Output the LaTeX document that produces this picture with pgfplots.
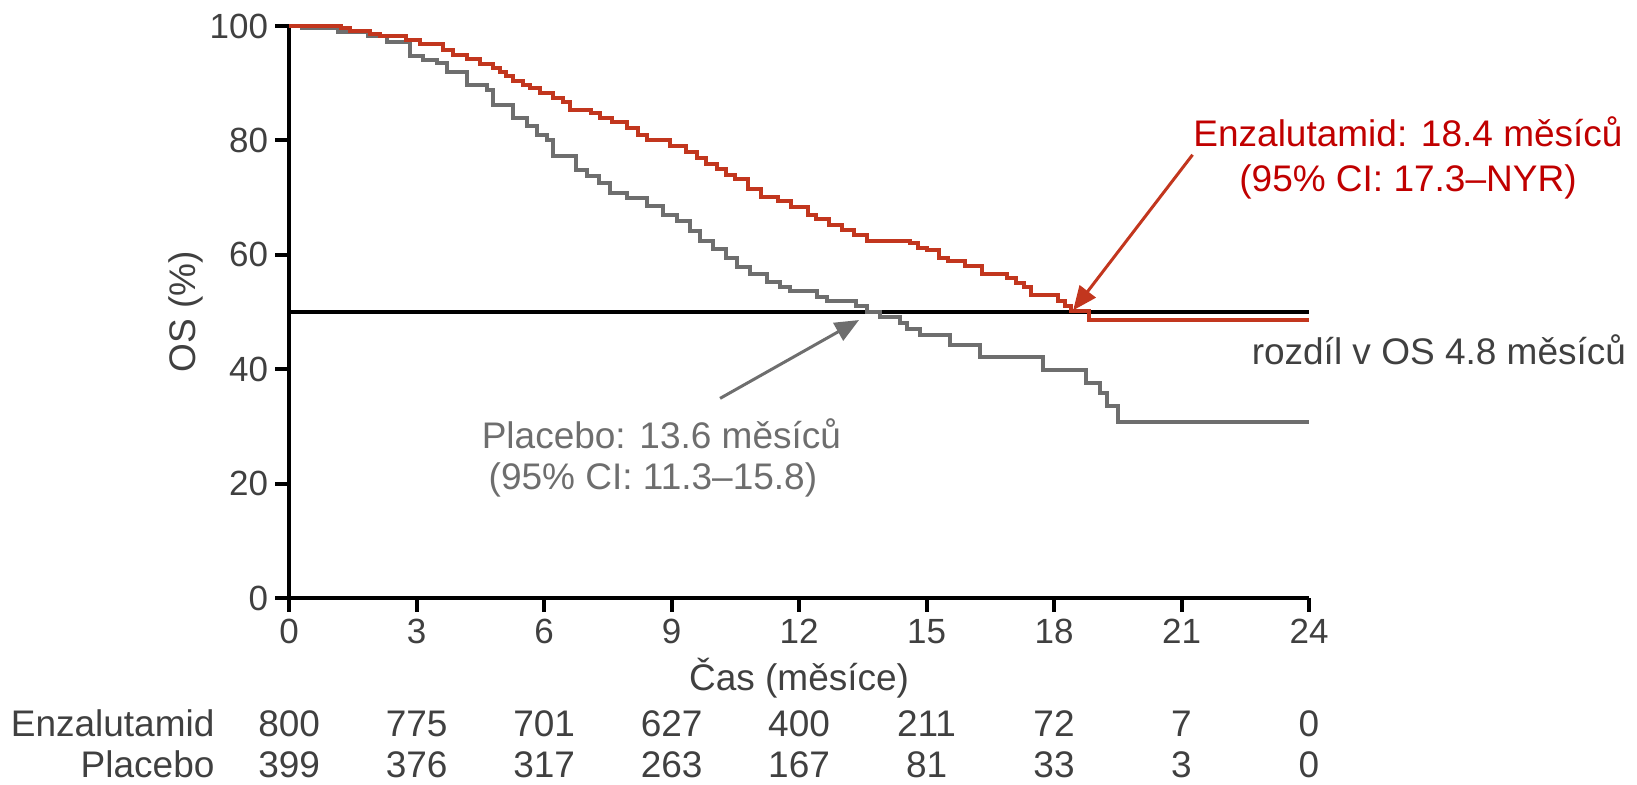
\documentclass[border=0pt]{standalone}
\usepackage{fontspec}
\setmainfont{Liberation Sans}
\usepackage{pgfplots}
\pgfplotsset{compat=1.18}
\usetikzlibrary{arrows.meta}
\definecolor{enzred}{RGB}{194,54,30}
\definecolor{txtred}{RGB}{192,0,0}
\definecolor{plgray}{RGB}{110,110,110}
\definecolor{dark}{RGB}{64,64,64}
\tikzset{tbl/.style={anchor=base, inner sep=0pt, text=dark, font=\fontsize{18.5}{22}\selectfont}}
\begin{document}
\begin{tikzpicture}
\path[use as bounding box] (-144.6pt,-93.5pt) rectangle (673.9pt,299pt);
\begin{axis}[
 at={(0,0)}, anchor=south west,
 scale only axis, width=509.9pt, height=285.95pt,
 xmin=0,xmax=24,ymin=0,ymax=100,
 axis x line*=bottom, axis y line*=left,
 axis line style={line width=2pt, black, -},
 xtick={0,3,...,24}, ytick={0,20,...,100},
 tick align=outside, major tick length=7pt,
 tick style={line width=2pt, black},
 ticklabel style={font=\fontsize{17.5}{21}\selectfont, text=dark},
 /pgf/number format/assume math mode=true,
 clip=false,
]
\addplot[black, line width=2pt] coordinates {(0,50) (24,50)};
% Placebo
\addplot[const plot, plgray, line width=2pt] coordinates {
(0,100) (0.3,99.7) (1.16,99.0) (1.86,98.2) (2.29,97.2) (2.84,94.7) (3.16,94.1)
(3.47,93.5) (3.71,92.0) (4.18,89.7) (4.65,88.8) (4.80,86.2) (5.27,84.0)
(5.6,82.5) (5.82,81.0) (6.06,80.1) (6.21,77.2) (6.76,74.9) (7.0,73.7)
(7.3,72.5) (7.55,70.8) (7.94,69.9) (8.41,68.5) (8.80,67.0) (9.12,65.9)
(9.43,64.1) (9.67,62.4) (9.98,61.0) (10.29,59.5) (10.53,57.8) (10.84,56.6)
(11.24,55.2) (11.55,54.3) (11.78,53.7) (12.41,52.6) (12.65,52.0) (13.35,51.1)
(13.59,50.0) (13.9,49.1) (14.37,48.0) (14.53,47.1) (14.84,45.9) (15.55,44.2)
(16.25,42.2) (17.74,39.8) (18.76,37.6) (19.07,35.8) (19.24,33.5) (19.51,30.7)
(24,30.7)};
% Enzalutamid
\addplot[const plot, enzred, line width=2pt] coordinates {
(0,100) (1.23,99.6) (1.43,99.2) (1.9,98.7) (2.14,98.2) (2.76,97.6) (3.08,96.8)
(3.63,95.9) (3.86,95.0) (4.18,94.2) (4.49,93.3) (4.8,92.6) (4.96,92.0)
(5.1,91.2) (5.27,90.4) (5.5,89.7) (5.67,89.1) (5.9,88.3) (6.2,87.5)
(6.45,86.8) (6.6,85.3) (7.1,84.8) (7.31,84.0) (7.6,83.2) (7.94,82.2)
(8.2,81.0) (8.41,80.1) (8.96,79.0) (9.35,77.9) (9.59,76.9) (9.8,75.9)
(10.06,75.0) (10.29,74.0) (10.5,73.2) (10.8,71.5) (11.1,70.1) (11.5,69.4)
(11.8,68.3) (12.2,67.0) (12.4,66.2) (12.7,65.3) (13.0,64.4) (13.3,63.5)
(13.6,62.5) (14.6,62.0) (14.8,61.2) (15.0,60.8) (15.3,59.5) (15.5,58.9)
(15.9,58.0) (16.3,56.6) (16.9,56.0) (17.1,55.0) (17.3,54.4) (17.45,53.0)
(18.1,52.0) (18.25,51.0) (18.4,50.2) (18.82,48.6) (24,48.6)};
% arrows
\draw[enzred, line width=1.5pt, -{Triangle[length=12pt,width=10pt]}] (axis cs:21.26,77.5) -- (axis cs:18.45,50.3);
\draw[plgray, line width=1.5pt, -{Triangle[length=12pt,width=10pt]}] (axis cs:10.14,34.9) -- (axis cs:13.41,48.6);
% annotations
\node[anchor=base, text=txtred, font=\fontsize{18.5}{22}\selectfont] at (axis cs:26.33,78.9) {Enzalutamid: 18.4 měsíců};
\node[anchor=base, text=txtred, font=\fontsize{18.5}{22}\selectfont] at (axis cs:26.33,71.05) {(95\% CI: 17.3–NYR)};
\node[anchor=base, text=plgray, font=\fontsize{18.5}{22}\selectfont] at (axis cs:8.76,26.2) {Placebo: 13.6 měsíců};
\node[anchor=base, text=plgray, font=\fontsize{18.5}{22}\selectfont] at (axis cs:8.56,19.0) {(95\% CI: 11.3–15.8)};
\node[anchor=base east, text=dark, font=\fontsize{18.5}{22}\selectfont, inner sep=0pt] at (axis cs:31.47,40.75) {rozdíl v OS 4.8 měsíců};
% labels
\node[rotate=90, text=dark, font=\fontsize{18.5}{22}\selectfont] at (axis cs:-2.43,50) {OS (\%)};
\node[anchor=base, text=dark, font=\fontsize{18.5}{22}\selectfont] at (axis cs:12,-16.2) {Čas (měsíce)};
% risk table
\node[tbl, anchor=base east] at (axis cs:-1.75,-24.3) {Enzalutamid};
\node[tbl, anchor=base east] at (axis cs:-1.75,-31.4) {Placebo};
\node[tbl] at (axis cs:0,-24.3) {800};
\node[tbl] at (axis cs:3,-24.3) {775};
\node[tbl] at (axis cs:6,-24.3) {701};
\node[tbl] at (axis cs:9,-24.3) {627};
\node[tbl] at (axis cs:12,-24.3) {400};
\node[tbl] at (axis cs:15,-24.3) {211};
\node[tbl] at (axis cs:18,-24.3) {72};
\node[tbl] at (axis cs:21,-24.3) {7};
\node[tbl] at (axis cs:24,-24.3) {0};
\node[tbl] at (axis cs:0,-31.4) {399};
\node[tbl] at (axis cs:3,-31.4) {376};
\node[tbl] at (axis cs:6,-31.4) {317};
\node[tbl] at (axis cs:9,-31.4) {263};
\node[tbl] at (axis cs:12,-31.4) {167};
\node[tbl] at (axis cs:15,-31.4) {81};
\node[tbl] at (axis cs:18,-31.4) {33};
\node[tbl] at (axis cs:21,-31.4) {3};
\node[tbl] at (axis cs:24,-31.4) {0};
\end{axis}
\end{tikzpicture}
\end{document}
